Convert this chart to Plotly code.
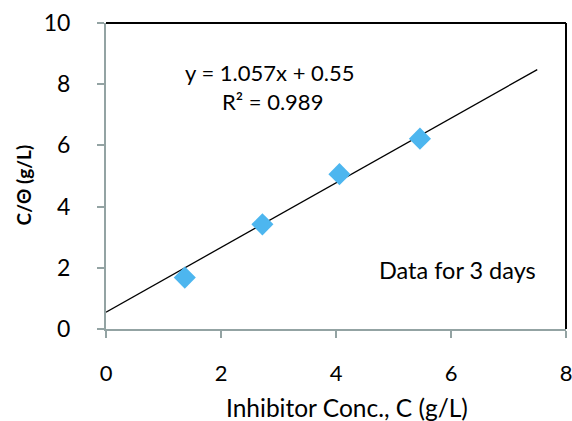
import plotly.graph_objects as go

conc = [1.37, 2.72, 4.06, 5.46]
c_theta = [1.68, 3.42, 5.06, 6.22]
slope = 1.057
intercept = 0.55
trend_x = [0, 7.5]
trend_y = [slope * v + intercept for v in trend_x]
x_ticks = [0, 2, 4, 6, 8]
x_tick_text = ["0", "2", "4", "6", "8"]
y_ticks = [0, 2, 4, 6, 8, 10]

fig = go.Figure()
fig.add_trace(go.Scatter(x=trend_x, y=trend_y, mode="lines",
                         line=dict(color="black", width=1.3), showlegend=False))
fig.add_trace(go.Scatter(x=conc, y=c_theta, mode="markers",
                         marker=dict(symbol="diamond", size=17, color="#4DB6EF"),
                         showlegend=False))

font = "Lato"
fig.update_layout(
    width=572, height=421,
    margin=dict(l=106, r=6, t=23, b=92),
    plot_bgcolor="white", paper_bgcolor="white",
    font=dict(family=font, size=22, color="black"),
    xaxis=dict(range=[0, 8], tickvals=x_ticks, ticktext=x_tick_text,
               showgrid=False, zeroline=False,
               showline=True, linecolor="#93A3A3", linewidth=2,
               ticks="outside", ticklen=7, tickcolor="#93A3A3", tickwidth=2,
               tickfont=dict(size=22), ticklabelstandoff=17,
               ticklabeloverflow="allow", automargin=False),
    yaxis=dict(range=[0, 10], tickvals=y_ticks, showgrid=False, zeroline=False,
               showline=True, linecolor="#93A3A3", linewidth=2,
               ticks="outside", ticklen=7, tickcolor="#93A3A3", tickwidth=2,
               tickfont=dict(size=23), ticklabelstandoff=22,
               ticklabeloverflow="allow", automargin=False),
    shapes=[
        dict(type="line", xref="paper", yref="paper", x0=0, x1=1, y0=1, y1=1,
             layer="above", line=dict(color="black", width=2)),
        dict(type="line", xref="paper", yref="paper", x0=1, x1=1, y0=0, y1=1,
             layer="above", line=dict(color="black", width=2)),
    ],
    annotations=[
        dict(x=2.85, y=8.37, xref="x", yref="y", text="y = 1.057x + 0.55",
             showarrow=False, font=dict(size=22)),
        dict(x=2.9, y=7.42, xref="x", yref="y", text="R² = 0.989",
             showarrow=False, font=dict(size=22)),
        dict(x=6.11, y=1.93, xref="x", yref="y", text="Data for 3 days",
             showarrow=False, font=dict(size=23.5)),
        dict(x=0.524, y=-0.258, xref="paper", yref="paper", text="Inhibitor Conc., C (g/L)",
             showarrow=False, font=dict(size=24.5), xanchor="center", yanchor="middle"),
        dict(x=-0.18, y=0.47, xref="paper", yref="paper", text="<b>C/Θ (g/L)</b>",
             showarrow=False, font=dict(size=19), textangle=-90,
             xanchor="center", yanchor="middle"),
    ],
)
fig.write_html("out.html", config={"displayModeBar": False},
               post_script="document.body.style.margin='0';document.body.style.overflow='hidden';")
